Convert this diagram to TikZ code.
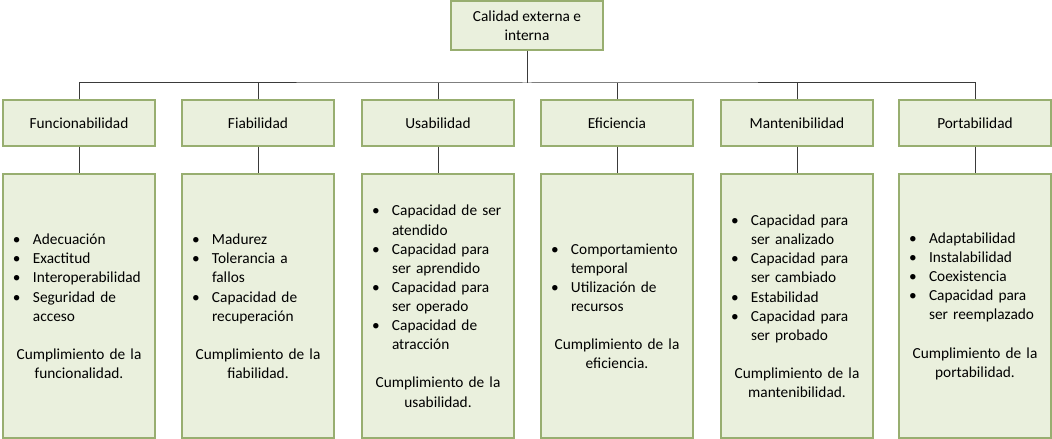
\documentclass[tikz,border=0pt]{standalone}
\usepackage{fontspec}
\setmainfont{Carlito}
\definecolor{boxfill}{HTML}{EAF0DD}
\definecolor{boxline}{HTML}{98AE70}
\definecolor{conn}{HTML}{3A3A3A}
\newcommand\bi[1]{\par\noindent\makebox[20bp][l]{\textbullet}#1}
\newcommand\bc[1]{\par\noindent\hspace*{20bp}#1}
\newcommand\cumpl[1]{\par\vskip 19bp{\centering Cumplimiento de la\\ #1\par}\nointerlineskip\vskip 0pt\hbox{\rule{0pt}{8bp}}}
\begin{document}
\begin{tikzpicture}[x=1bp,y=-1bp,
  every node/.style={font=\fontsize{15.4}{19.2}\selectfont},
  gbox/.style={draw=boxline, fill=boxfill, line width=1.2bp, inner sep=0pt},
  topbox/.style={gbox, minimum width=152bp, minimum height=49bp, align=center},
  midbox/.style={gbox, minimum width=152bp, minimum height=46bp},
  lowbox/.style={gbox, minimum width=152bp, minimum height=264bp, text width=132bp, align=left},
  link/.style={draw=conn, line width=1bp}]
\useasboundingbox (0,0) rectangle (1052,439);
\node[topbox] (top) at (527,25.5) {Calidad externa e\\interna};
\coordinate (bus) at (527,83);

\node[midbox] (m1) at (79,123) {Funcionabilidad};
\node[midbox] (m2) at (258,123) {Fiabilidad};
\node[midbox] (m3) at (438,123) {Usabilidad};
\node[midbox] (m4) at (617,123) {Eficiencia};
\node[midbox] (m5) at (797,123) {Mantenibilidad};
\node[midbox] (m6) at (975,123) {Portabilidad};

\node[lowbox] (b1) at (79,306) {\bi{Adecuación}\bi{Exactitud}\bi{Interoperabilidad}\bi{Seguridad de}\bc{acceso}\cumpl{funcionalidad.}};
\node[lowbox] (b2) at (258,306) {\bi{Madurez}\bi{Tolerancia a}\bc{fallos}\bi{Capacidad de}\bc{recuperación}\cumpl{fiabilidad.}};
\node[lowbox] (b3) at (438,306) {\bi{Capacidad de ser}\bc{atendido}\bi{Capacidad para}\bc{ser aprendido}\bi{Capacidad para}\bc{ser operado}\bi{Capacidad de}\bc{atracción}\cumpl{usabilidad.}};
\node[lowbox] (b4) at (617,306) {\bi{Comportamiento}\bc{temporal}\bi{Utilización de}\bc{recursos}\cumpl{eficiencia.}};
\node[lowbox] (b5) at (797,306) {\bi{Capacidad para}\bc{ser analizado}\bi{Capacidad para}\bc{ser cambiado}\bi{Estabilidad}\bi{Capacidad para}\bc{ser probado}\cumpl{mantenibilidad.}};
\node[lowbox] (b6) at (975,306) {\bi{Adaptabilidad}\bi{Instalabilidad}\bi{Coexistencia}\bi{Capacidad para}\bc{ser reemplazado}\cumpl{portabilidad.}};

\draw[link] (top.south) -- (bus);
\draw[link] (m1.north) |- (bus) -| (m6.north);
\foreach \i in {2,3,4,5} {\draw[link] (m\i.north) -- (m\i.north |- bus);}
\foreach \i in {1,...,6} {\draw[link] (m\i.south) -- (b\i.north);}
\end{tikzpicture}
\end{document}
